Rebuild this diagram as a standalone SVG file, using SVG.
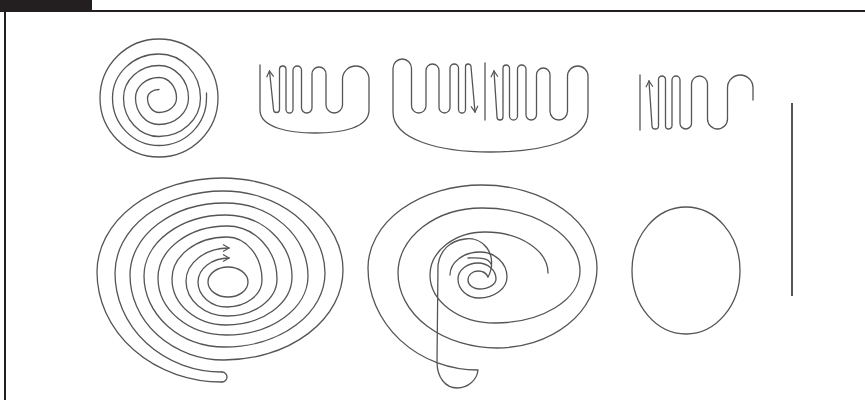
<svg xmlns="http://www.w3.org/2000/svg" width="865" height="400" viewBox="0 0 865 400">
<style>
.ln{fill:none;stroke:#555;stroke-width:1.3;stroke-linecap:round;stroke-linejoin:round}
.fr{stroke:#231f20;stroke-width:2}
</style>
<defs>
<marker id="ah" viewBox="-8 -5 10 10" refX="0" refY="0" markerWidth="10" markerHeight="10" markerUnits="userSpaceOnUse" orient="auto-start-reverse">
<path d="M -6 -3.5 L 0 0 L -6 3.5" fill="none" stroke="#555" stroke-width="1.2"/>
</marker>
</defs>
<rect width="865" height="400" fill="#fff"/>
<g id="frame">
<rect x="0" y="0" width="92" height="12" fill="#231f20"/>
<line class="fr" x1="92" y1="11" x2="865" y2="11"/>
<line class="fr" x1="5" y1="11" x2="5" y2="400"/>
</g>
<g id="spiral-small">
<circle class="ln" cx="159" cy="98" r="59"/>
<path class="ln" d="M 159 89.5 A 11.5 8.5 0 0 0 147.5 98 A 11.5 14.5 0 0 0 159 112.5 A 17.5 14.5 0 0 0 176.5 98 A 17.5 20.5 0 0 0 159 77.5 A 23.5 20.5 0 0 0 135.5 98 A 23.5 26.5 0 0 0 159 124.5 A 29.5 26.5 0 0 0 188.5 98 A 29.5 32.5 0 0 0 159 65.5 A 35.5 32.5 0 0 0 123.5 98 A 35.5 38.5 0 0 0 159 136.5 A 41.5 38.5 0 0 0 200.5 98 A 41.5 44 0 0 0 159 54 A 46.5 44 0 0 0 112.5 98 A 46.5 47.5 0 0 0 159 145.5 A 47.5 47.5 0 0 0 206.5 98 L 206.5 93"/>
</g>
<g id="meander-1">
<path class="ln" marker-end="url(#ah)" d="M 260 65 L 260 110 C 260 128 290 133 315 133 C 342 133 369 128 369 110 L 369 79.25 A 13.25 13.25 0 0 0 342.5 79.25 L 342.5 104.75 A 8.25 8.25 0 0 1 326 104.75 L 326 74 A 7 7 0 0 0 312 74 L 312 107.75 A 5.25 5.25 0 0 1 301.5 107.75 L 301.5 70.25 A 4.25 4.25 0 0 0 293 70.25 L 293 109.5 A 3.5 3.5 0 0 1 286 109.5 L 286 69.25 A 3.25 3.25 0 0 0 279.5 69.25 L 279.5 109.5 A 3 3 0 0 1 273.5 109.5 L 269.5 71"/>
</g>
<g id="meander-2">
<line class="ln" x1="485" y1="63" x2="485" y2="120"/>
<path class="ln" marker-start="url(#ah)" marker-end="url(#ah)" d="M 475 112 L 471 66.75 A 2.75 2.75 0 0 0 465.5 66.75 L 465.5 109.5 A 3.5 3.5 0 0 1 458.5 109.5 L 458.5 68.25 A 4.25 4.25 0 0 0 450 68.25 L 450 107.5 A 5.5 5.5 0 0 1 439 107.5 L 439 70.5 A 6.5 6.5 0 0 0 426 70.5 L 426 105.75 A 7.25 7.25 0 0 1 411.5 105.75 L 411.5 68.25 A 9.25 9.25 0 0 0 393 68.25 L 393 112 C 393 140 440 152 490 152 C 545 152 588 140 588 112 L 588 76.25 A 10.25 10.25 0 0 0 567.5 76.25 L 567.5 111.25 A 8.75 8.75 0 0 1 550 111.25 L 550 74.75 A 6.75 6.75 0 0 0 536.5 74.75 L 536.5 114.75 A 5.25 5.25 0 0 1 526 114.75 L 526 69.25 A 4.25 4.25 0 0 0 517.5 69.25 L 517.5 116 A 4 4 0 0 1 509.5 116 L 509.5 68.25 A 3.25 3.25 0 0 0 503 68.25 L 503 117 A 3 3 0 0 1 497 117 L 494 71"/>
</g>
<g id="meander-3">
<line class="ln" x1="640" y1="75" x2="640" y2="130"/>
<path class="ln" marker-start="url(#ah)" d="M 649 81 L 652 125.75 A 3.25 3.25 0 0 0 658.5 125.75 L 658.5 79.5 A 3.5 3.5 0 0 1 665.5 79.5 L 665.5 125.75 A 3.25 3.25 0 0 0 672 125.75 L 672 80 A 4 4 0 0 1 680 80 L 680 123.25 A 5.75 5.75 0 0 0 691.5 123.25 L 691.5 84 A 8 8 0 0 1 707.5 84 L 707.5 119 A 10 10 0 0 0 727.5 119 L 727.5 87.75 A 12.75 12.75 0 0 1 753 87.75 L 753 100"/>
</g>
<g id="spiral-double">
<ellipse class="ln" cx="228" cy="282" rx="20" ry="15"/>
<path class="ln" marker-end="url(#ah)" d="M 222 382 A 125 110 0 0 1 97 272 A 125 94 0 0 1 222 178 A 121 92 0 0 1 343 270 A 119 90 0 0 1 224 360 A 94 85 0 0 1 130 275 A 95 72 0 0 1 225 203 A 83 73 0 0 1 308 276 A 82 59 0 0 1 226 335 A 68 57 0 0 1 158 278 A 69 52 0 0 1 227 226 A 50 53 0 0 1 277 279 A 50 37 0 0 1 227 316 A 41 35 0 0 1 186 281 A 43 33 0 0 1 229 248"/>
<path class="ln" marker-end="url(#ah)" d="M 222 372 A 107 99 0 0 1 115 273 A 108 82 0 0 1 223 191 A 102 82 0 0 1 325 273 A 100 74 0 0 1 225 347 A 81 71 0 0 1 144 276 A 82 61 0 0 1 226 215 A 66 62 0 0 1 292 277 A 66 48 0 0 1 226 325 A 54 46 0 0 1 172 279 A 55 42 0 0 1 227 237 A 35 43 0 0 1 262 280 A 35 27 0 0 1 227 307 A 29 25 0 0 1 198 282 A 31 24 0 0 1 229 258"/>
<path class="ln" d="M 222 372 A 5 5 0 0 1 222 382"/>
</g>
<g id="spiral-messy">
<path class="ln" d="M 488 277 C 486 272 482 271 478 271 A 10 9 0 0 0 468 280 A 11 9 0 0 0 479 289 A 17 10 0 0 0 496 279 A 18 16 0 0 0 478 263 A 20 16 0 0 0 458 279 A 21 19 0 0 0 479 298 A 28 21 0 0 0 507 277 A 27 25 0 0 0 480 252 A 30 23 0 0 0 450 275"/>
<path class="ln" d="M 488 277 C 493 268 493 256 487 248 C 481 240 472 238 465 239 C 450 241 440 250 438 265 L 437 362 C 437 378 446 388 457 388 C 468 388 477 380 478 370 A 110 102 0 0 1 368 268 A 114 83 0 0 1 482 185 A 115 83 0 0 1 597 268 A 100 80 0 0 1 497 348 A 99 75 0 0 1 398 273 A 84 65 0 0 1 482 208 A 98 63 0 0 1 580 271 A 85 52 0 0 1 495 323 A 65 48 0 0 1 430 275 A 55 43 0 0 1 485 232 A 63 41 0 0 1 548 273"/>
<path class="ln" d="M 468 258 C 478 258 488 257 491 264"/>
</g>
<g id="ellipse">
<ellipse class="ln" cx="686" cy="270.5" rx="54" ry="63.5"/>
</g>
<g id="line">
<line x1="792" y1="103" x2="792" y2="296" stroke="#555" stroke-width="2"/>
</g>
</svg>
